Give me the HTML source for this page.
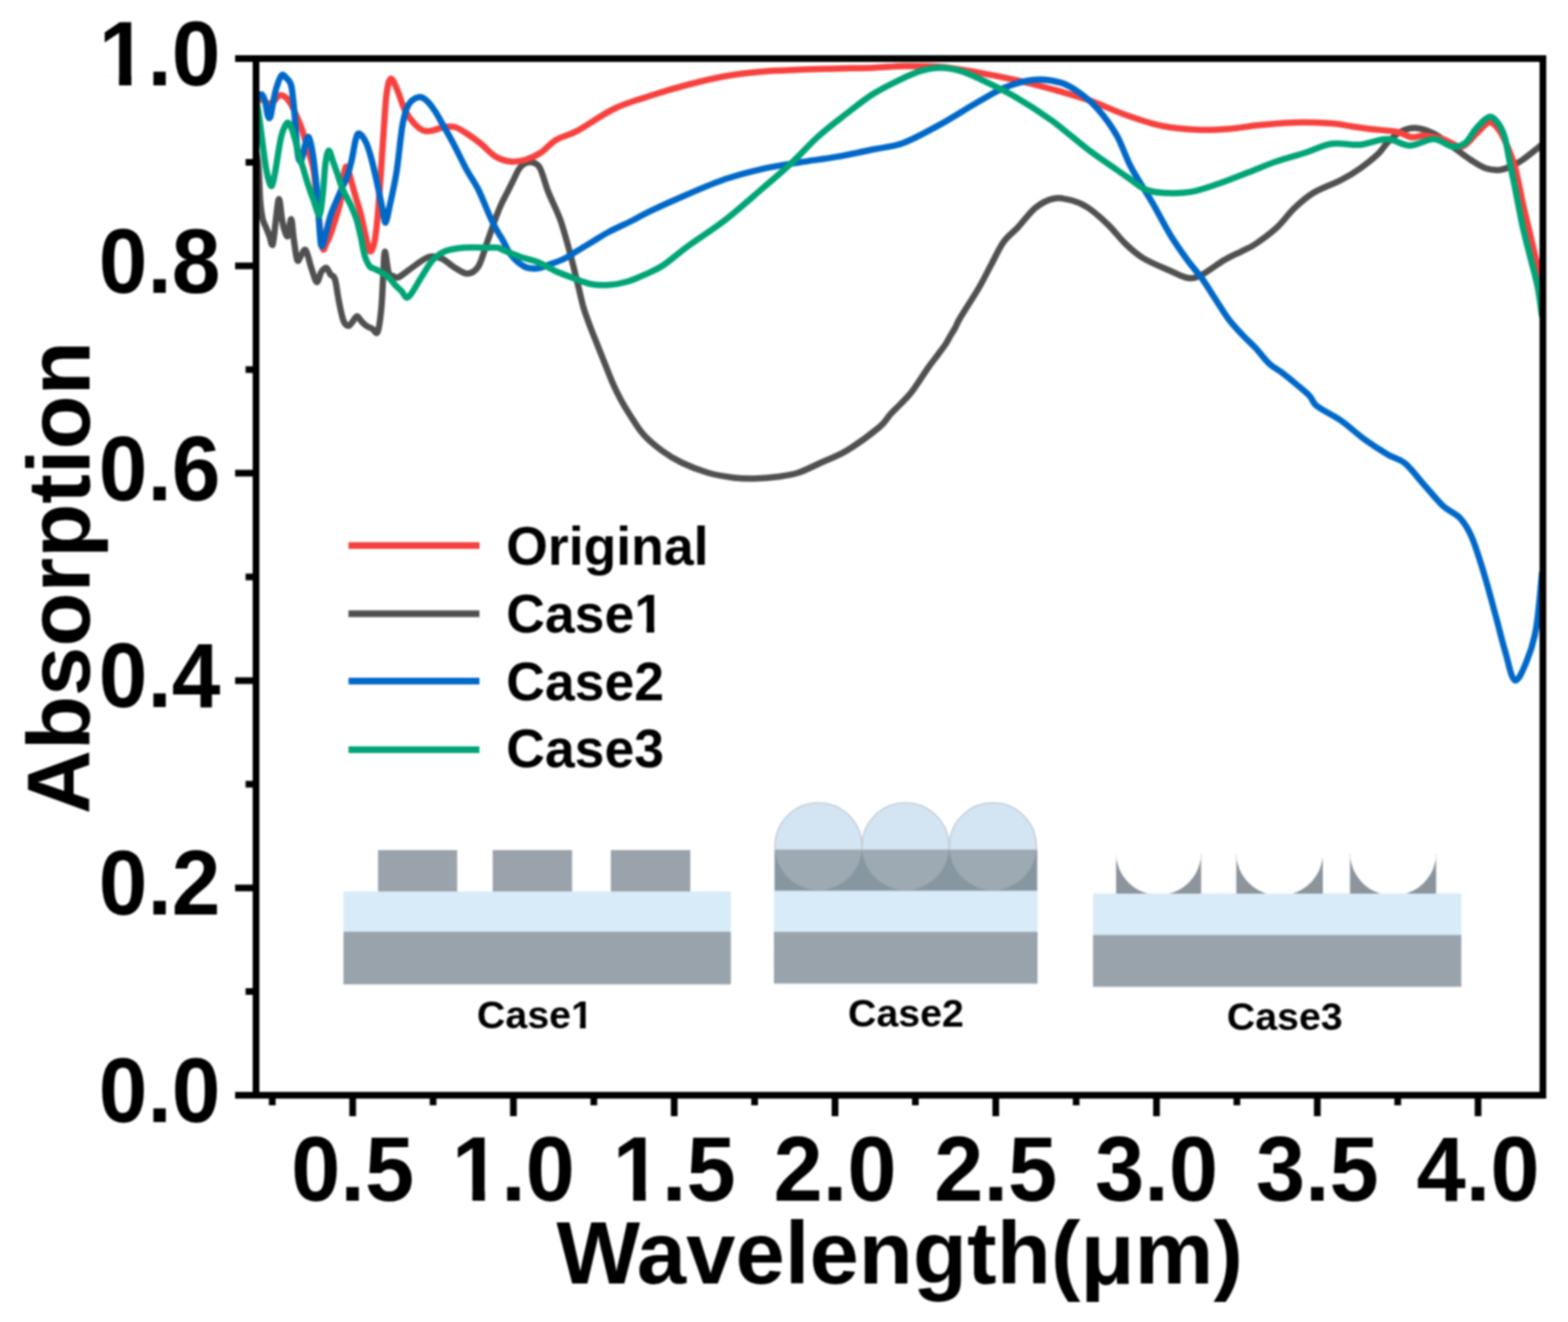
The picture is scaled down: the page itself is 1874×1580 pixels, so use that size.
<!DOCTYPE html>
<html><head><meta charset="utf-8"><title>Absorption spectra</title>
<style>html,body{margin:0;padding:0;background:#fff;}svg{display:block;filter:blur(0.8px);}</style>
</head><body>
<svg width="1874" height="1580" viewBox="0 0 1874 1580">
<rect width="1874" height="1580" fill="#fff"/>
<defs><clipPath id="cup0"><rect x="1333.9" y="1020" width="101.6" height="48"/></clipPath><clipPath id="cup1"><rect x="1477.6" y="1020" width="103.4" height="48"/></clipPath><clipPath id="cup2"><rect x="1613.5" y="1020" width="102.9" height="48"/></clipPath></defs>
<rect x="410.5" y="1065.5" width="463" height="48" fill="#d8ebf8"/>
<rect x="410.5" y="1113.5" width="463" height="63" fill="#98a3ac"/>
<rect x="451.8" y="1016" width="94.6" height="49.5" fill="#9aa2ac"/>
<rect x="588.8" y="1016" width="94.9" height="49.5" fill="#9aa2ac"/>
<rect x="730" y="1016" width="95.0" height="49.5" fill="#9aa2ac"/>
<rect x="925" y="1064.6" width="315" height="49" fill="#d8ebf8"/>
<rect x="925" y="1113.6" width="315" height="62" fill="#98a3ac"/>
<defs><clipPath id="cTop"><rect x="900" y="900" width="400" height="115.5"/></clipPath><clipPath id="cBand"><rect x="925.7" y="1015.5" width="314" height="49.1"/></clipPath></defs>
<rect x="925.7" y="1015.5" width="314" height="49.1" fill="#8797a1"/>
<circle cx="978.2" cy="1011.6" r="52" fill="#d3e5f3" stroke="#bfc9d1" stroke-width="1.5" clip-path="url(#cTop)"/>
<circle cx="978.2" cy="1011.6" r="52" fill="#9eaab3" clip-path="url(#cBand)"/>
<circle cx="1082.2" cy="1011.6" r="52" fill="#d3e5f3" stroke="#bfc9d1" stroke-width="1.5" clip-path="url(#cTop)"/>
<circle cx="1082.2" cy="1011.6" r="52" fill="#9eaab3" clip-path="url(#cBand)"/>
<circle cx="1186.6" cy="1011.6" r="52" fill="#d3e5f3" stroke="#bfc9d1" stroke-width="1.5" clip-path="url(#cTop)"/>
<circle cx="1186.6" cy="1011.6" r="52" fill="#9eaab3" clip-path="url(#cBand)"/>
<rect x="1306.3" y="1067.7" width="440.2" height="49.7" fill="#d8ebf8"/>
<rect x="1306.3" y="1117.4" width="440.2" height="62" fill="#98a3ac"/>
<rect x="1333.9" y="1020" width="101.6" height="48" fill="#8c949c"/>
<circle cx="1384.7" cy="1018.5" r="51.1" fill="#fff" clip-path="url(#cup0)"/>
<rect x="1477.6" y="1020" width="103.4" height="48" fill="#8c949c"/>
<circle cx="1529.3" cy="1018.5" r="52.0" fill="#fff" clip-path="url(#cup1)"/>
<rect x="1613.5" y="1020" width="102.9" height="48" fill="#8c949c"/>
<circle cx="1665.0" cy="1018.5" r="51.8" fill="#fff" clip-path="url(#cup2)"/>
<g font-family="Liberation Sans, Arial, sans-serif" font-weight="bold" font-size="47" fill="#000" text-anchor="middle">
<text x="639.3" y="1229.3">Case1</text>
<text x="1082.7" y="1227.4">Case2</text>
<text x="1535.5" y="1230.7">Case3</text>
</g>
<defs><clipPath id="plotclip"><rect x="306" y="66" width="1538" height="1243"/></clipPath></defs>
<g fill="none" stroke-width="7.5" stroke-linejoin="round" stroke-linecap="round" clip-path="url(#plotclip)">
<path d="M306.0,180.0 C306.5,183.3 308.2,190.0 309.0,200.0 C309.8,210.0 310.2,229.7 311.0,240.0 C311.8,250.3 312.8,256.7 314.0,262.0 C315.2,267.3 316.7,268.7 318.0,272.0 C319.3,275.3 320.7,278.7 322.0,282.0 C323.3,285.3 324.7,295.7 326.0,292.0 C327.3,288.3 328.8,269.0 330.0,260.0 C331.2,251.0 332.3,237.7 333.5,238.0 C334.7,238.3 335.9,255.8 337.0,262.0 C338.1,268.2 338.8,271.7 340.0,275.0 C341.2,278.3 342.7,284.2 344.0,282.0 C345.3,279.8 346.8,261.5 348.0,262.0 C349.2,262.5 349.8,276.8 351.0,285.0 C352.2,293.2 353.8,307.7 355.3,311.0 C356.8,314.3 358.3,307.0 360.0,305.0 C361.7,303.0 363.5,296.5 365.5,299.0 C367.5,301.5 369.8,313.7 372.0,320.0 C374.2,326.3 376.6,336.2 378.6,337.0 C380.6,337.8 382.1,327.8 384.0,325.0 C385.9,322.2 388.2,319.5 390.0,320.0 C391.8,320.5 393.3,325.7 395.0,328.0 C396.7,330.3 398.7,328.7 400.4,334.0 C402.1,339.3 403.3,351.7 405.0,360.0 C406.7,368.3 408.7,378.8 410.6,383.7 C412.5,388.6 414.7,389.3 416.4,389.5 C418.1,389.7 419.3,386.9 421.0,385.0 C422.7,383.1 424.8,378.2 426.6,378.0 C428.4,377.8 430.1,382.1 432.0,384.0 C433.9,385.9 435.8,388.0 438.0,389.5 C440.2,391.0 442.8,391.8 445.0,393.0 C447.2,394.2 449.5,400.8 451.3,396.8 C453.1,392.8 454.6,380.1 455.7,369.0 C456.8,357.9 457.3,341.4 458.0,330.0 C458.7,318.6 458.9,301.6 460.0,300.8 C461.1,300.1 462.7,320.6 464.4,325.5 C466.1,330.4 467.9,329.1 470.0,330.0 C472.1,330.9 472.8,333.0 477.0,331.0 C481.2,329.0 489.1,322.0 495.0,318.0 C500.9,314.0 507.1,308.5 512.6,307.0 C518.1,305.5 522.8,306.8 528.0,309.0 C533.2,311.2 538.4,317.0 543.6,320.0 C548.8,323.0 554.3,327.3 559.0,327.0 C563.7,326.7 568.1,324.4 572.0,318.0 C575.9,311.6 579.1,298.3 582.5,288.8 C585.9,279.3 589.5,268.4 592.3,261.0 C595.0,253.6 596.7,249.4 599.0,244.3 C601.3,239.2 603.7,235.1 606.0,230.4 C608.3,225.8 610.7,221.1 613.0,216.4 C615.3,211.8 617.7,206.0 620.0,202.5 C622.3,199.0 624.2,196.9 627.0,195.5 C629.8,194.1 633.7,193.2 636.8,194.2 C639.9,195.2 642.6,195.6 645.7,201.6 C648.8,207.6 651.5,219.9 655.5,230.0 C659.5,240.1 665.4,251.0 669.4,262.0 C673.4,273.0 676.9,286.8 679.5,296.0 C682.1,305.2 682.9,308.7 685.0,317.0 C687.1,325.3 689.9,337.0 692.0,345.6 C694.1,354.2 695.3,360.8 697.6,368.4 C699.9,376.0 702.8,383.4 705.6,391.0 C708.5,398.6 711.7,406.4 714.7,414.0 C717.7,421.6 720.8,429.2 723.8,436.8 C726.8,444.4 730.0,452.7 733.0,459.5 C736.0,466.3 738.8,471.8 742.0,477.8 C745.2,483.8 747.9,488.4 752.4,495.3 C756.9,502.2 762.6,512.1 769.0,519.3 C775.4,526.5 783.2,532.9 790.9,538.5 C798.5,544.1 805.7,548.6 814.9,553.0 C824.1,557.4 835.6,562.0 846.0,565.0 C856.4,568.0 868.1,569.8 877.3,571.0 C886.5,572.2 892.5,572.2 901.3,572.0 C910.1,571.8 921.2,570.9 930.0,569.7 C938.8,568.5 945.7,567.7 954.0,565.0 C962.3,562.3 970.3,557.9 980.0,553.5 C989.7,549.1 1000.2,545.7 1012.0,538.5 C1023.8,531.3 1042.4,517.7 1051.0,510.5 C1059.6,503.3 1059.8,499.9 1063.8,495.5 C1067.8,491.1 1071.4,487.9 1075.2,484.0 C1079.0,480.1 1083.4,475.7 1086.6,472.0 C1089.8,468.3 1090.2,467.7 1094.2,462.0 C1098.2,456.3 1105.8,444.3 1110.3,438.0 C1114.8,431.7 1117.6,428.5 1120.9,424.0 C1124.2,419.5 1127.9,414.8 1130.4,411.0 C1132.9,407.2 1134.1,404.3 1136.0,401.0 C1137.9,397.7 1139.9,394.9 1141.8,391.4 C1143.7,387.9 1142.9,387.8 1147.5,380.0 C1152.1,372.2 1163.2,355.3 1169.4,344.8 C1175.6,334.3 1179.4,326.1 1184.4,316.8 C1189.4,307.5 1194.1,296.5 1199.5,289.0 C1204.9,281.5 1210.3,278.4 1216.7,271.6 C1223.1,264.8 1230.8,253.7 1238.0,248.0 C1245.2,242.3 1252.6,238.6 1259.8,237.2 C1267.0,235.8 1274.3,237.7 1281.0,239.5 C1287.7,241.3 1292.8,243.2 1300.0,248.0 C1307.2,252.8 1316.4,261.0 1324.0,268.3 C1331.6,275.6 1338.4,285.0 1345.5,291.8 C1352.6,298.6 1357.9,303.6 1366.8,308.9 C1375.7,314.2 1389.9,319.9 1398.8,323.8 C1407.7,327.7 1413.6,331.6 1420.0,332.3 C1426.4,333.0 1429.9,331.6 1437.0,328.0 C1444.1,324.4 1455.0,315.6 1462.8,311.0 C1470.6,306.4 1477.8,303.5 1484.0,300.3 C1490.2,297.1 1493.1,296.6 1500.0,292.0 C1506.9,287.4 1517.5,279.9 1525.4,272.6 C1533.3,265.3 1540.1,255.3 1547.5,248.3 C1554.9,241.3 1560.5,236.1 1569.7,230.5 C1579.0,224.9 1593.8,219.8 1603.0,215.0 C1612.2,210.2 1617.7,206.9 1625.0,201.7 C1632.3,196.5 1641.5,189.2 1647.0,184.0 C1652.5,178.8 1653.5,175.1 1658.0,170.7 C1662.5,166.3 1668.2,160.4 1673.8,157.5 C1679.4,154.6 1684.9,152.6 1691.5,153.0 C1698.1,153.4 1706.2,156.0 1713.6,159.7 C1721.0,163.4 1728.4,170.0 1735.8,175.2 C1743.2,180.4 1751.1,186.7 1757.7,191.0 C1764.3,195.3 1769.5,199.0 1775.4,201.0 C1781.3,203.0 1787.7,203.5 1793.0,203.0 C1798.3,202.5 1802.9,200.0 1807.4,198.0 C1811.9,196.0 1813.9,195.2 1819.8,191.0 C1825.7,186.8 1839.0,176.0 1842.8,173.0" stroke="#505050"/>
<path d="M306.0,124.0 C307.2,123.0 310.7,118.0 313.0,118.0 C315.3,118.0 317.7,123.5 320.0,124.0 C322.3,124.5 324.7,122.7 327.0,121.0 C329.3,119.3 331.7,114.8 334.0,114.0 C336.3,113.2 338.7,114.2 341.0,116.0 C343.3,117.8 345.7,121.0 348.0,125.0 C350.3,129.0 353.0,135.5 355.0,140.0 C357.0,144.5 358.3,147.3 360.0,152.0 C361.7,156.7 363.3,162.5 365.0,168.0 C366.7,173.5 368.3,178.8 370.0,185.0 C371.7,191.2 373.3,194.2 375.0,205.0 C376.7,215.8 378.2,234.8 380.0,250.0 C381.8,265.2 383.8,289.2 385.5,296.0 C387.2,302.8 388.4,293.7 390.0,291.0 C391.6,288.3 393.2,284.8 395.0,280.0 C396.8,275.2 399.0,268.7 401.0,262.0 C403.0,255.3 405.5,247.8 407.0,240.0 C408.5,232.2 409.0,221.7 410.0,215.0 C411.0,208.3 412.0,202.0 413.0,200.0 C414.0,198.0 414.8,200.2 416.0,203.0 C417.2,205.8 418.5,211.7 420.0,217.0 C421.5,222.3 423.2,228.7 425.0,235.0 C426.8,241.3 429.0,247.2 431.0,255.0 C433.0,262.8 435.2,274.5 437.0,282.0 C438.8,289.5 440.3,298.3 442.0,300.0 C443.7,301.7 445.5,298.3 447.0,292.0 C448.5,285.7 449.7,275.7 451.0,262.0 C452.3,248.3 453.7,228.7 455.0,210.0 C456.3,191.3 457.8,166.3 459.0,150.0 C460.2,133.7 460.7,121.3 462.0,112.0 C463.3,102.7 464.8,94.7 467.0,94.0 C469.2,93.3 472.2,101.7 475.0,108.0 C477.8,114.3 480.7,125.4 484.0,132.0 C487.3,138.6 491.3,143.5 495.0,147.5 C498.7,151.5 502.3,154.6 506.0,156.0 C509.7,157.4 513.0,156.7 517.0,156.0 C521.0,155.3 525.5,152.7 530.0,152.0 C534.5,151.3 539.5,150.8 544.0,152.0 C548.5,153.2 551.8,155.7 557.0,159.0 C562.2,162.3 569.2,167.3 575.0,172.0 C580.8,176.7 586.2,183.5 592.0,187.0 C597.8,190.5 604.0,192.3 610.0,193.0 C616.0,193.7 622.1,192.7 628.0,191.0 C633.9,189.3 639.3,187.0 645.5,183.0 C651.7,179.0 657.6,171.4 665.0,167.0 C672.4,162.6 678.5,162.6 690.0,156.4 C701.5,150.2 719.2,137.1 734.0,130.0 C748.8,122.9 763.8,118.8 778.6,114.0 C793.4,109.2 808.3,104.8 823.0,101.0 C837.7,97.2 852.2,93.6 867.0,91.0 C881.8,88.4 896.7,86.8 911.5,85.5 C926.3,84.2 941.0,83.9 955.8,83.3 C970.5,82.7 985.3,82.4 1000.0,82.0 C1014.7,81.6 1030.7,81.5 1044.0,81.0 C1057.3,80.5 1066.7,79.2 1080.0,79.0 C1093.3,78.8 1109.2,78.7 1124.0,80.0 C1138.8,81.3 1153.8,84.0 1168.6,86.6 C1183.4,89.2 1198.2,92.1 1212.9,95.4 C1227.6,98.7 1242.2,102.4 1257.0,106.5 C1271.8,110.6 1286.7,114.6 1301.5,119.8 C1316.3,125.0 1331.0,132.3 1345.8,137.5 C1360.5,142.7 1375.2,147.9 1390.0,150.8 C1404.8,153.8 1421.1,154.7 1434.4,155.2 C1447.7,155.7 1458.6,154.9 1470.0,154.0 C1481.4,153.1 1490.1,151.0 1503.0,149.7 C1515.9,148.4 1532.7,146.8 1547.5,146.4 C1562.3,146.0 1580.7,146.8 1591.8,147.5 C1602.9,148.2 1606.6,149.7 1614.0,150.8 C1621.4,151.9 1626.8,152.9 1636.0,154.0 C1645.2,155.1 1660.5,155.8 1669.0,157.5 C1677.5,159.2 1681.4,163.2 1687.0,164.0 C1692.6,164.8 1696.3,161.6 1702.6,162.0 C1708.9,162.4 1717.3,164.1 1724.7,166.3 C1732.1,168.5 1740.2,176.3 1746.9,175.2 C1753.6,174.1 1759.1,164.5 1764.6,159.7 C1770.1,154.9 1775.4,147.0 1780.0,146.4 C1784.6,145.8 1788.3,151.1 1792.0,156.0 C1795.7,160.9 1798.8,168.5 1802.0,176.0 C1805.2,183.5 1808.0,190.0 1811.0,201.0 C1814.0,212.0 1816.9,228.9 1819.8,242.0 C1822.7,255.1 1825.4,265.8 1828.6,279.5 C1831.8,293.2 1836.3,312.8 1839.0,324.0 C1841.7,335.2 1843.7,343.2 1844.6,347.0" stroke="#f7413e"/>
<path d="M306.0,122.0 C306.5,121.0 307.8,117.5 309.0,116.0 C310.2,114.5 311.7,112.0 313.0,113.0 C314.3,114.0 315.8,117.8 317.0,122.0 C318.2,126.2 319.0,135.0 320.0,138.0 C321.0,141.0 322.0,142.2 323.0,140.0 C324.0,137.8 324.8,130.7 326.0,125.0 C327.2,119.3 328.2,111.8 330.0,106.0 C331.8,100.2 334.3,92.0 336.5,90.0 C338.7,88.0 341.1,92.0 343.0,94.0 C344.9,96.0 346.7,96.8 348.0,102.0 C349.3,107.2 350.2,117.0 351.0,125.0 C351.8,133.0 352.2,140.0 353.0,150.0 C353.8,160.0 354.8,178.0 356.0,185.0 C357.2,192.0 358.5,194.2 360.0,192.0 C361.5,189.8 363.5,176.7 365.0,172.0 C366.5,167.3 367.5,161.8 369.0,164.0 C370.5,166.2 372.3,174.0 374.0,185.0 C375.7,196.0 377.4,212.3 379.0,230.0 C380.6,247.7 381.9,282.0 383.4,291.0 C384.9,300.0 386.1,289.6 388.0,284.0 C389.9,278.4 392.4,265.6 395.0,257.6 C397.6,249.6 401.3,241.9 403.8,236.0 C406.3,230.1 408.2,226.0 410.0,222.0 C411.8,218.0 412.9,216.8 414.6,212.0 C416.3,207.2 418.2,200.7 420.0,193.0 C421.8,185.3 423.7,171.6 425.3,166.0 C426.9,160.4 427.5,158.8 429.6,159.7 C431.7,160.6 435.5,165.9 438.0,171.5 C440.5,177.1 442.4,184.1 444.7,193.0 C447.0,201.9 449.9,215.2 452.0,225.0 C454.1,234.8 456.1,245.2 457.6,252.0 C459.1,258.8 459.6,267.2 461.0,266.0 C462.4,264.8 463.8,255.2 466.0,245.0 C468.2,234.8 471.5,220.9 474.0,205.0 C476.5,189.1 478.7,162.8 481.0,149.6 C483.3,136.4 484.6,131.6 487.8,126.0 C491.0,120.4 496.7,117.1 500.4,116.2 C504.1,115.3 506.7,117.6 510.0,120.4 C513.3,123.2 516.7,128.1 520.0,133.0 C523.3,137.9 525.7,142.7 529.6,149.6 C533.5,156.5 538.9,165.9 543.5,174.7 C548.1,183.5 552.9,193.9 557.5,202.5 C562.1,211.1 566.8,216.7 571.4,226.0 C576.0,235.3 581.6,250.0 585.3,258.2 C589.0,266.4 591.1,270.4 593.6,275.0 C596.1,279.6 597.1,280.6 600.0,285.5 C602.9,290.4 606.2,299.2 610.7,304.7 C615.2,310.2 621.4,315.9 626.7,318.6 C632.0,321.3 637.4,321.2 642.7,320.7 C648.0,320.2 653.4,317.3 658.7,315.4 C664.0,313.4 669.4,311.7 674.7,309.0 C680.0,306.3 685.4,302.6 690.7,299.4 C696.0,296.2 700.5,293.5 706.7,289.8 C712.9,286.1 719.8,281.4 728.0,277.0 C736.2,272.6 747.6,267.7 756.0,263.5 C764.4,259.3 767.4,256.9 778.6,251.6 C789.8,246.3 808.3,238.0 823.0,231.7 C837.7,225.4 852.2,219.0 867.0,214.0 C881.8,209.0 896.7,205.1 911.5,201.8 C926.3,198.5 941.0,196.4 955.8,194.0 C970.5,191.6 985.3,190.0 1000.0,187.4 C1014.7,184.8 1030.7,181.3 1044.0,178.5 C1057.3,175.7 1066.7,175.7 1080.0,170.7 C1093.3,165.7 1109.2,156.7 1124.0,148.6 C1138.8,140.5 1155.6,129.4 1168.6,122.0 C1181.6,114.6 1190.7,108.7 1201.8,104.3 C1212.9,99.9 1224.0,96.3 1235.0,95.4 C1246.0,94.5 1258.8,96.2 1268.0,98.8 C1277.2,101.4 1283.0,105.6 1290.4,111.0 C1297.8,116.4 1305.2,122.5 1312.6,131.0 C1320.0,139.5 1328.2,150.4 1334.7,161.9 C1341.2,173.4 1344.8,186.5 1351.9,200.0 C1359.0,213.5 1369.7,229.2 1377.5,242.7 C1385.3,256.2 1391.7,269.4 1398.8,281.0 C1405.9,292.6 1413.8,303.5 1420.0,312.0 C1426.2,320.5 1430.6,324.5 1436.0,332.0 C1441.4,339.5 1446.9,348.7 1452.3,357.0 C1457.7,365.3 1463.0,374.4 1468.4,381.6 C1473.8,388.8 1479.2,394.3 1484.6,400.0 C1490.0,405.7 1495.3,410.3 1500.7,416.0 C1506.1,421.7 1511.4,429.4 1516.8,434.4 C1522.2,439.4 1527.6,441.9 1533.0,446.0 C1538.4,450.1 1543.7,454.5 1549.0,459.0 C1554.3,463.5 1560.8,468.6 1565.0,473.0 C1569.2,477.4 1567.8,480.5 1574.0,485.4 C1580.2,490.3 1593.0,495.9 1602.5,502.5 C1612.0,509.1 1621.5,518.4 1631.0,525.3 C1640.5,532.2 1651.3,539.0 1659.4,543.8 C1667.5,548.5 1672.3,547.9 1679.4,553.8 C1686.5,559.7 1694.4,570.9 1702.0,579.4 C1709.6,587.9 1717.8,598.4 1725.0,605.0 C1732.2,611.6 1739.3,613.1 1745.0,619.3 C1750.7,625.5 1754.3,631.1 1759.0,642.0 C1763.7,652.9 1768.6,669.1 1773.4,684.8 C1778.2,700.5 1783.3,720.3 1787.6,736.0 C1791.9,751.7 1795.2,766.1 1799.0,778.9 C1802.8,791.7 1806.1,811.1 1810.4,813.0 C1814.7,814.9 1820.4,800.4 1824.7,790.0 C1829.0,779.6 1833.0,767.9 1836.0,750.4 C1839.0,732.9 1841.8,695.7 1843.0,684.8" stroke="#0068c8"/>
<path d="M306.0,118.0 C306.5,120.8 307.8,127.2 309.0,135.0 C310.2,142.8 311.7,155.0 313.0,165.0 C314.3,175.0 315.7,186.7 317.0,195.0 C318.3,203.3 319.7,210.5 321.0,215.0 C322.3,219.5 323.7,223.7 325.0,222.0 C326.3,220.3 327.7,212.0 329.0,205.0 C330.3,198.0 331.7,187.5 333.0,180.0 C334.3,172.5 335.3,165.5 337.0,160.0 C338.7,154.5 341.2,148.3 343.0,147.0 C344.8,145.7 346.3,148.5 348.0,152.0 C349.7,155.5 351.5,162.5 353.0,168.0 C354.5,173.5 355.5,179.7 357.0,185.0 C358.5,190.3 360.2,194.2 362.0,200.0 C363.8,205.8 365.8,213.3 368.0,220.0 C370.2,226.7 372.7,233.8 375.0,240.0 C377.3,246.2 380.2,258.7 382.0,257.0 C383.8,255.3 384.8,240.3 386.0,230.0 C387.2,219.7 387.8,203.3 389.0,195.0 C390.2,186.7 391.5,180.3 393.0,180.0 C394.5,179.7 396.2,188.0 398.0,193.0 C399.8,198.0 402.2,204.7 404.0,210.0 C405.8,215.3 407.2,220.5 409.0,225.0 C410.8,229.5 413.2,233.3 415.0,237.0 C416.8,240.7 418.2,242.8 420.0,247.0 C421.8,251.2 424.2,256.2 426.0,262.0 C427.8,267.8 429.3,274.7 431.0,282.0 C432.7,289.3 434.2,300.0 436.0,306.0 C437.8,312.0 439.7,315.5 441.5,318.0 C443.3,320.5 445.1,320.0 447.0,321.0 C448.9,322.0 450.8,322.8 453.0,324.0 C455.2,325.2 457.8,326.5 460.0,328.0 C462.2,329.5 464.1,331.0 466.0,333.0 C467.9,335.0 469.4,337.5 471.7,340.0 C474.0,342.5 477.3,345.5 480.0,348.0 C482.7,350.5 484.0,357.8 488.0,355.0 C492.0,352.2 499.0,338.3 503.8,331.0 C508.6,323.7 512.2,316.2 517.0,311.0 C521.8,305.8 526.3,302.5 532.6,300.0 C538.9,297.5 547.3,296.7 554.7,296.0 C562.1,295.3 570.2,296.0 576.9,296.0 C583.5,296.0 590.8,295.6 594.6,296.0 C598.5,296.4 595.5,296.5 600.0,298.3 C604.5,300.1 614.2,304.3 621.3,306.8 C628.4,309.3 635.6,310.3 642.7,313.2 C649.8,316.1 656.9,320.8 664.0,324.0 C671.1,327.2 678.4,329.9 685.4,332.5 C692.4,335.1 698.9,338.2 706.0,339.5 C713.1,340.8 720.7,341.0 728.0,340.5 C735.3,340.0 742.9,338.6 750.0,336.5 C757.1,334.4 763.8,331.4 770.8,328.2 C777.8,325.0 783.3,323.2 792.0,317.5 C800.7,311.8 810.4,302.8 822.9,293.7 C835.4,284.6 852.2,274.1 867.0,262.7 C881.8,251.2 898.5,236.1 911.5,225.0 C924.5,213.9 933.6,206.3 944.7,196.0 C955.8,185.7 967.0,172.9 978.0,163.0 C989.0,153.1 1000.0,144.9 1011.0,136.4 C1022.0,127.9 1032.5,119.2 1044.0,112.0 C1055.5,104.8 1070.3,97.8 1080.0,93.2 C1089.7,88.6 1094.7,86.4 1102.0,84.4 C1109.3,82.4 1116.6,81.0 1124.0,81.0 C1131.4,81.0 1139.0,82.4 1146.4,84.4 C1153.8,86.4 1157.5,88.0 1168.6,93.2 C1179.7,98.4 1198.2,106.9 1212.9,115.4 C1227.6,123.9 1242.2,133.3 1257.0,144.0 C1271.8,154.7 1286.7,168.5 1301.5,179.6 C1316.3,190.7 1334.7,202.9 1345.8,210.6 C1356.9,218.3 1360.6,222.7 1368.0,226.0 C1375.4,229.3 1380.8,229.9 1390.0,230.5 C1399.2,231.1 1411.9,231.2 1423.0,229.4 C1434.1,227.6 1445.0,223.4 1456.5,219.5 C1468.0,215.6 1480.5,210.4 1492.0,206.0 C1503.5,201.6 1514.3,196.8 1525.4,193.0 C1536.5,189.2 1547.5,186.5 1558.6,183.0 C1569.7,179.5 1580.7,173.5 1591.8,171.8 C1602.9,170.1 1614.0,173.9 1625.0,173.0 C1636.0,172.1 1648.0,166.1 1658.0,166.3 C1668.0,166.5 1675.5,174.0 1684.8,174.0 C1694.1,174.0 1705.1,166.1 1713.6,166.3 C1722.1,166.5 1729.5,174.5 1735.8,175.2 C1742.1,175.9 1746.5,174.4 1751.3,170.7 C1756.1,167.0 1759.8,158.2 1764.6,153.0 C1769.4,147.8 1775.6,140.5 1780.0,139.7 C1784.4,138.9 1787.9,143.9 1791.0,148.0 C1794.1,152.1 1796.4,157.1 1798.5,164.3 C1800.6,171.5 1801.7,180.7 1803.8,191.0 C1805.9,201.3 1808.3,213.0 1811.0,226.3 C1813.7,239.6 1816.9,257.4 1819.8,270.7 C1822.7,284.0 1825.6,294.2 1828.6,306.0 C1831.5,317.8 1835.1,329.7 1837.5,341.5 C1839.9,353.3 1841.9,371.1 1842.8,377.0" stroke="#00a476"/>
</g>
<line x1="416.5" y1="652" x2="573" y2="652" stroke="#f7413e" stroke-width="8" stroke-linecap="butt"/>
<line x1="416.5" y1="733.5" x2="573" y2="733.5" stroke="#505050" stroke-width="8" stroke-linecap="butt"/>
<line x1="416.5" y1="814" x2="573" y2="814" stroke="#0068c8" stroke-width="8" stroke-linecap="butt"/>
<line x1="416.5" y1="896" x2="573" y2="896" stroke="#00a476" stroke-width="8" stroke-linecap="butt"/>
<g font-family="Liberation Sans, Arial, sans-serif" font-weight="bold" font-size="64" fill="#000">
<text x="605" y="675.2">Original</text>
<text x="605" y="755.5">Case1</text>
<text x="605" y="837">Case2</text>
<text x="605" y="917.2">Case3</text>
</g>
<rect x="306" y="70" width="1538" height="1239" fill="none" stroke="#000" stroke-width="8"/>
<path d="M281,1309.0 H306 M293.5,1185.1 H306 M281,1061.2 H306 M293.5,937.3 H306 M281,813.4 H306 M293.5,689.5 H306 M281,565.6 H306 M293.5,441.7 H306 M281,317.8 H306 M293.5,193.9 H306 M281,70.0 H306 M325.4,1309 V1321 M421.5,1309 V1334 M517.6,1309 V1321 M613.6,1309 V1334 M709.7,1309 V1321 M805.8,1309 V1334 M901.9,1309 V1321 M998.0,1309 V1334 M1094.0,1309 V1321 M1190.1,1309 V1334 M1286.2,1309 V1321 M1382.2,1309 V1334 M1478.3,1309 V1321 M1574.4,1309 V1334 M1670.5,1309 V1321 M1766.5,1309 V1334" stroke="#000" stroke-width="8" fill="none"/>
<g font-family="Liberation Sans, Arial, sans-serif" font-weight="bold" font-size="109" fill="#000">
<text transform="translate(263.5,1341.0) scale(0.96,1)" text-anchor="end">0.0</text>
<text transform="translate(263.5,1093.2) scale(0.96,1)" text-anchor="end">0.2</text>
<text transform="translate(263.5,845.4) scale(0.96,1)" text-anchor="end">0.4</text>
<text transform="translate(263.5,597.6) scale(0.96,1)" text-anchor="end">0.6</text>
<text transform="translate(263.5,349.8) scale(0.96,1)" text-anchor="end">0.8</text>
<text transform="translate(263.5,102.0) scale(0.96,1)" text-anchor="end">1.0</text>
<text transform="translate(421.5,1434.5) scale(0.97,1)" text-anchor="middle">0.5</text>
<text transform="translate(613.6,1434.5) scale(0.97,1)" text-anchor="middle">1.0</text>
<text transform="translate(805.8,1434.5) scale(0.97,1)" text-anchor="middle">1.5</text>
<text transform="translate(998.0,1434.5) scale(0.97,1)" text-anchor="middle">2.0</text>
<text transform="translate(1190.1,1434.5) scale(0.97,1)" text-anchor="middle">2.5</text>
<text transform="translate(1382.2,1434.5) scale(0.97,1)" text-anchor="middle">3.0</text>
<text transform="translate(1574.4,1434.5) scale(0.97,1)" text-anchor="middle">3.5</text>
<text transform="translate(1766.5,1434.5) scale(0.97,1)" text-anchor="middle">4.0</text>
<text x="665" y="1534" font-size="106">Wavelength(μm)</text>
<text transform="translate(107,973) rotate(-90)" x="0" y="0" font-size="106">Absorption</text>
</g>
<rect x="684.17" y="1223.70" width="9.01" height="6.60" fill="#fff"/>
<rect x="700.03" y="1223.70" width="8.41" height="6.60" fill="#fff"/>
<rect x="760.83" y="748.17" width="11.91" height="8.33" fill="#fff"/>
<rect x="781.92" y="748.17" width="11.09" height="8.33" fill="#fff"/>
<rect x="123.44" y="90.08" width="18.83" height="12.92" fill="#fff"/>
<rect x="157.03" y="90.08" width="17.50" height="12.92" fill="#fff"/>
<rect x="545.58" y="1422.58" width="19.02" height="12.92" fill="#fff"/>
<rect x="579.50" y="1422.58" width="17.68" height="12.92" fill="#fff"/>
<rect x="737.78" y="1422.58" width="19.02" height="12.92" fill="#fff"/>
<rect x="771.70" y="1422.58" width="17.68" height="12.92" fill="#fff"/>
</svg>
</body></html>
